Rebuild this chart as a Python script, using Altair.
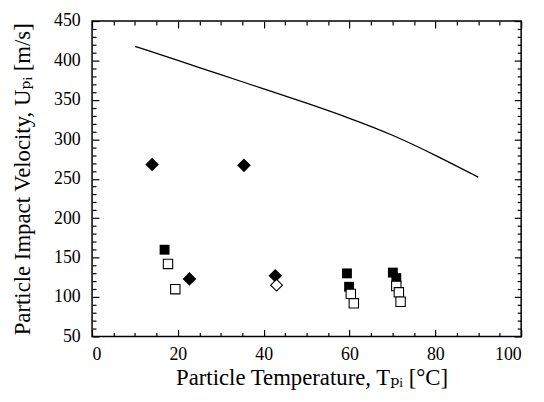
import altair as alt
import pandas as pd

# ---- data ----
fd_x = [14.0, 35.4, 22.7, 42.7]          # filled diamonds
fd_y = [268, 267, 123, 127]
od_x = [43.0]                              # open diamond
od_y = [115]
fs_x = [16.9, 59.4, 59.9, 70.1, 70.9]     # filled squares
fs_y = [160, 130, 113, 131, 124]
os_x = [17.7, 19.4, 60.3, 61.0, 70.9, 71.5, 71.9]   # open squares
os_y = [142, 110, 104, 92, 114, 106, 94]
line_x = [10, 20, 30, 40, 50, 60, 70, 80, 90]
line_y = [418, 400, 382, 364, 346, 327, 306, 280, 252]

x_major = [0, 20, 40, 60, 80, 100]
x_ticks = list(range(0, 101, 5))
y_major = list(range(50, 451, 50))
y_ticks = list(range(50, 451, 10))

W, H = 434, 319
FONT = "'Liberation Serif', 'Times New Roman', 'DejaVu Serif', serif"

xs = alt.Scale(domain=[0, 100], nice=False)
ys = alt.Scale(domain=[50, 450], nice=False)

tick_cond_x = {"condition": {"test": "datum.value % 20 === 0", "value": 7}, "value": 4}
tick_cond_y = {"condition": {"test": "datum.value % 50 === 0", "value": 7}, "value": 4}

main_x = alt.Axis(values=x_major, ticks=False, domain=False, grid=False, labelPadding=9,
                  labelFont=FONT, labelFontSize=18, labelColor="black",
                  title="Particle Temperature, Tₚᵢ [°C]", titleFont=FONT, titleFontSize=23,
                  titleFontWeight="normal", titleColor="black", titlePadding=4, titleX=222)
main_y = alt.Axis(values=y_major, ticks=False, domain=False, grid=False, labelPadding=12,
                  labelFont=FONT, labelFontSize=18, labelColor="black",
                  title="Particle Impact Velocity, Uₚᵢ [m/s]", titleFont=FONT, titleFontSize=23,
                  titleFontWeight="normal", titleColor="black", titlePadding=19)

def tick_axis_x(orient):
    return alt.Axis(orient=orient, offset=-H, values=x_ticks, labels=False, domain=False,
                    grid=False, title=None, tickColor="black", tickWidth=1.2, tickSize=tick_cond_x)

def tick_axis_y(orient):
    return alt.Axis(orient=orient, offset=-W, values=y_ticks, labels=False, domain=False,
                    grid=False, title=None, tickColor="black", tickWidth=1.2, tickSize=tick_cond_y)

line_df = pd.DataFrame({"x": line_x, "y": line_y})
fd_df = pd.DataFrame({"x": fd_x, "y": fd_y})
od_df = pd.DataFrame({"x": od_x, "y": od_y})
fs_df = pd.DataFrame({"x": fs_x, "y": fs_y})
os_df = pd.DataFrame({"x": os_x, "y": os_y})

line = alt.Chart(line_df).mark_line(color="black", strokeWidth=1.3, interpolate="basis").encode(
    x=alt.X("x:Q", scale=xs, axis=main_x),
    y=alt.Y("y:Q", scale=ys, axis=main_y),
)

fd = alt.Chart(fd_df).mark_point(shape="diamond", filled=True, color="black", size=190, opacity=1).encode(
    x=alt.X("x:Q", scale=xs, axis=tick_axis_x("top")),
    y=alt.Y("y:Q", scale=ys, axis=tick_axis_y("right")),
)

od = alt.Chart(od_df).mark_point(shape="diamond", filled=True, fill="white", stroke="black",
                                 strokeWidth=1.1, size=140, opacity=1).encode(
    x=alt.X("x:Q", scale=xs, axis=None),
    y=alt.Y("y:Q", scale=ys, axis=None),
)

fs = alt.Chart(fs_df).mark_point(shape="square", filled=True, color="black", size=100, opacity=1).encode(
    x=alt.X("x:Q", scale=xs, axis=tick_axis_x("bottom")),
    y=alt.Y("y:Q", scale=ys, axis=tick_axis_y("left")),
)

os_ = alt.Chart(os_df).mark_point(shape="square", filled=True, fill="white", stroke="black",
                                  strokeWidth=1.1, size=90, opacity=1).encode(
    x=alt.X("x:Q", scale=xs, axis=None),
    y=alt.Y("y:Q", scale=ys, axis=None),
)

chart = alt.layer(line, fs, fd, od, os_).resolve_axis(x="independent", y="independent").properties(
    width=W, height=H,
    autosize=alt.AutoSizeParams(type="none"),
    padding={"left": 85, "top": 11, "right": 15, "bottom": 56},
    background="white",
).configure_view(stroke="black", strokeWidth=1.5)

chart.save("out.html", embed_options={"renderer": "svg", "actions": False})
